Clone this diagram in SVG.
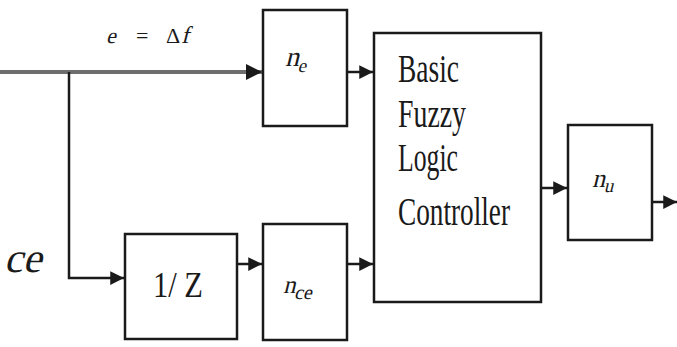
<svg xmlns="http://www.w3.org/2000/svg" width="677" height="347" viewBox="0 0 677 347">
<style>
.box{fill:#fff;stroke:#1a1a1a;stroke-width:2.5}
.ln{fill:none;stroke:#1a1a1a;stroke-width:2.5}
.thick{fill:none;stroke:#6e6e6e;stroke-width:4}
.t{font-family:"Liberation Serif","DejaVu Serif",serif;fill:#1a1a1a}
</style>
<defs>
<marker id="ah" viewBox="0 0 10 10" refX="10" refY="5" markerWidth="5.5" markerHeight="5.5" markerUnits="strokeWidth" orient="auto">
<path d="M0,0 L10,5 L0,10 z" fill="#1a1a1a"/>
</marker>
<marker id="ahg" viewBox="0 0 10 10" refX="10" refY="5" markerWidth="4" markerHeight="4" markerUnits="strokeWidth" orient="auto">
<path d="M0,0 L10,5 L0,10 z" fill="#1a1a1a"/>
</marker>
</defs>
<rect width="677" height="347" fill="#fff"/>
<g id="connectors">
<line class="thick" x1="0" y1="72" x2="262" y2="72" marker-end="url(#ahg)"/>
<polyline class="ln" points="69,72 69,278 124,278" marker-end="url(#ah)"/>
<line class="ln" x1="237" y1="264" x2="262" y2="264" marker-end="url(#ah)"/>
<line class="ln" x1="347" y1="72" x2="373" y2="72" marker-end="url(#ah)"/>
<line class="ln" x1="347" y1="264" x2="373" y2="264" marker-end="url(#ah)"/>
<line class="ln" x1="541" y1="188" x2="567" y2="188" marker-end="url(#ah)"/>
<line class="ln" x1="652" y1="202" x2="677" y2="202" marker-end="url(#ah)"/>
</g>
<g id="label-e">
<text class="t" font-size="22" transform="translate(106,43) skewX(-14)">e</text>
<text class="t" x="136" y="43" font-size="22">=</text>
<text class="t" x="166" y="43" font-size="22">Δ</text>
<text class="t" font-size="24" transform="translate(181,43) skewX(-14)">f</text>
</g>
<g id="label-ce">
<text class="t" font-size="42" transform="translate(4,272) skewX(-14)">ce</text>
</g>
<g id="ne">
<rect class="box" x="263" y="10" width="84" height="116"/>
<text class="t" font-size="28" transform="translate(285,66) skewX(-14)">n<tspan font-size="19" dy="6">e</tspan></text>
</g>
<g id="inv-z">
<rect class="box" x="125" y="234" width="112" height="105"/>
<text class="t" x="153" y="297" font-size="36" textLength="50" lengthAdjust="spacingAndGlyphs">1/ Z</text>
</g>
<g id="nce">
<rect class="box" x="263" y="224" width="84" height="116"/>
<text class="t" font-size="25" transform="translate(283,293) skewX(-14)">n<tspan font-size="20" dy="6">ce</tspan></text>
</g>
<g id="bflc">
<rect class="box" x="374" y="33" width="167" height="269"/>
<text class="t" x="398" y="82" font-size="40" textLength="61" lengthAdjust="spacingAndGlyphs">Basic</text>
<text class="t" x="398" y="127" font-size="40" textLength="68" lengthAdjust="spacingAndGlyphs">Fuzzy</text>
<text class="t" x="398" y="171" font-size="40" textLength="60" lengthAdjust="spacingAndGlyphs">Logic</text>
<text class="t" x="398" y="225" font-size="40" textLength="112" lengthAdjust="spacingAndGlyphs">Controller</text>
</g>
<g id="nu">
<rect class="box" x="568" y="125" width="84" height="115"/>
<text class="t" font-size="26" transform="translate(592,187) skewX(-14)">n<tspan font-size="19" dy="5">u</tspan></text>
</g>
</svg>
